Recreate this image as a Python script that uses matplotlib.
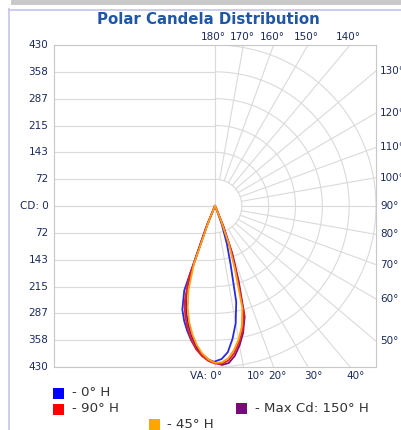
import numpy as np
import matplotlib.pyplot as plt
from matplotlib.patches import Rectangle
from matplotlib.lines import Line2D

# vertical angles (deg from nadir)
va = [0, 2.5, 5, 7.5, 10, 12.5, 15, 17.5, 20, 22.5, 25, 27.5, 30]

# candela values, right half / left half (opposite plane)
cd_0h = [415, 409, 392, 358, 318, 262, 160, 105, 55, 20, 0, 0, 0]
cd_180h = [417, 412, 400, 384, 365, 342, 318, 290, 240, 65, 8, 0, 0]
cd_90h = [421, 422, 414, 396, 370, 340, 300, 195, 125, 50, 10, 0, 0]
cd_270h = [421, 414, 402, 386, 363, 336, 306, 272, 205, 52, 5, 0, 0]
cd_45h = [419, 418, 408, 388, 362, 330, 282, 175, 110, 40, 5, 0, 0]
cd_225h = [419, 410, 395, 374, 348, 318, 282, 236, 165, 42, 5, 0, 0]
cd_150h = [418, 425, 421, 404, 378, 347, 306, 210, 135, 60, 12, 0, 0]
cd_330h = [418, 410, 397, 379, 355, 327, 296, 258, 192, 52, 5, 0, 0]

cd_max = 430
cd_ticks = [cd_max * k / 6 for k in range(7)]
cd_labels = ['CD: 0', '72', '143', '215', '287', '358', '430']
top_angles = [180, 170, 160, 150, 140]
right_angles = [130, 120, 110, 100, 90, 80, 70, 60, 50]
bottom_angles = [0, 10, 20, 30, 40]

W, H = 401, 430
fig = plt.figure(figsize=(W / 100, H / 100), dpi=100)
fig.patch.set_facecolor('white')

# panel frame
fig.add_artist(Line2D([13 / W, 1], [1 - 2 / H, 1 - 2 / H], color='#c8c8c8', lw=3.5))
fig.add_artist(Line2D([8.5 / W, 8.5 / W], [0, 1 - 9 / H], color='#c4c4ec', lw=1.2))
fig.add_artist(Line2D([8.5 / W, 1], [1 - 9.5 / H, 1 - 9.5 / H], color='#c4c4ec', lw=1.2))

ax = fig.add_axes([54 / W, 1 - 367 / H, 322 / W, 322 / H])
ax.set_xlim(-cd_max, cd_max)
ax.set_ylim(-cd_max, cd_max)
ax.set_xticks([])
ax.set_yticks([])
for s in ax.spines.values():
    s.set_color('#c8c8c8')
    s.set_linewidth(0.8)

grid_c = '#dadada'
# left half: horizontal lines
for v in cd_ticks:
    ax.plot([-cd_max, 0], [v, v], color=grid_c, lw=0.8, zorder=1)
    ax.plot([-cd_max, 0], [-v, -v], color=grid_c, lw=0.8, zorder=1)
ax.plot([0, 0], [-cd_max, cd_max], color=grid_c, lw=0.8, zorder=1)
# right half: arcs
phi = np.linspace(-np.pi / 2, np.pi / 2, 200)
for r in cd_ticks[1:]:
    ax.plot(r * np.cos(phi), r * np.sin(phi), color=grid_c, lw=0.8, zorder=1)
# radial lines
for a in range(10, 180, 10):
    t = np.radians(a)
    dx, dy = np.sin(t), -np.cos(t)
    lim = min(cd_max / abs(dx), cd_max / abs(dy) if abs(dy) > 1e-9 else 1e9)
    r0 = cd_ticks[1]
    ax.plot([r0 * dx, lim * dx], [r0 * dy, lim * dy], color=grid_c, lw=0.8, zorder=1)

lab_c = '#1b2a5e'
fs = 7.5
for v, lab in zip(cd_ticks, cd_labels):
    ax.annotate(lab, (-cd_max, v), xytext=(-4, 0), textcoords='offset points',
                ha='right', va='center', fontsize=fs, color=lab_c, annotation_clip=False)
    if v > 0:
        ax.annotate(lab, (-cd_max, -v), xytext=(-4, 0), textcoords='offset points',
                    ha='right', va='center', fontsize=fs, color=lab_c, annotation_clip=False)

for a in top_angles:
    x = cd_max * np.tan(np.radians(180 - a))
    ax.annotate(f'{a}°', (x, cd_max), xytext=(-1, 2), textcoords='offset points',
                ha='center', va='bottom', fontsize=fs, color=lab_c, annotation_clip=False)
for a in right_angles:
    t = np.radians(a)
    y = -cd_max * np.cos(t) / np.sin(t)
    ax.annotate(f'{a}°', (cd_max, y), xytext=(3, 0), textcoords='offset points',
                ha='left', va='center', fontsize=fs, color=lab_c, annotation_clip=False)
bottom_off = {0: 5, 10: 9, 20: 3, 30: 4, 40: 4}
for a in bottom_angles:
    x = cd_max * np.tan(np.radians(a))
    lab = 'VA: 0°' if a == 0 else f'{a}°'
    ha = 'right' if a == 0 else 'center'
    ax.annotate(lab, (x, -cd_max), xytext=(bottom_off[a], -3), textcoords='offset points',
                ha=ha, va='top', fontsize=fs, color=lab_c, annotation_clip=False)


def trace(right, left):
    a = np.radians(va)
    r = np.array(right, float)
    l = np.array(left, float)
    xs = np.concatenate([-(l * np.sin(a))[::-1], r * np.sin(a)])
    ys = np.concatenate([-(l * np.cos(a))[::-1], -r * np.cos(a)])
    return xs, ys


curves = [
    (cd_0h, cd_180h, '#2a2ae0'),
    (cd_150h, cd_330h, '#7a1080'),
    (cd_90h, cd_270h, '#e82020'),
    (cd_45h, cd_225h, '#ffa010'),
]
for right, left, c in curves:
    xs, ys = trace(right, left)
    ax.plot(xs, ys, color=c, lw=1.3, zorder=3)

fig.text(208 / W, 1 - 19 / H, 'Polar Candela Distribution', ha='center', va='center',
         fontsize=10.8, fontweight='bold', color='#1f57a4')

# legend
legend = [
    (59, 393, '#0000ff', '- 0° H'),
    (59, 409, '#ff0000', '- 90° H'),
    (242, 408, '#7a0a7a', '- Max Cd: 150° H'),
    (154, 424, '#ffa500', '- 45° H'),
]
for cx, cy, c, lab in legend:
    fig.add_artist(Rectangle(((cx - 5.5) / W, 1 - (cy + 5.5) / H), 11 / W, 11 / H,
                             transform=fig.transFigure, color=c, lw=0))
    fig.text((cx + 13) / W, 1 - cy / H, lab, ha='left', va='center', fontsize=9.6, color='#333333')

fig.savefig('out.png', dpi=100)
